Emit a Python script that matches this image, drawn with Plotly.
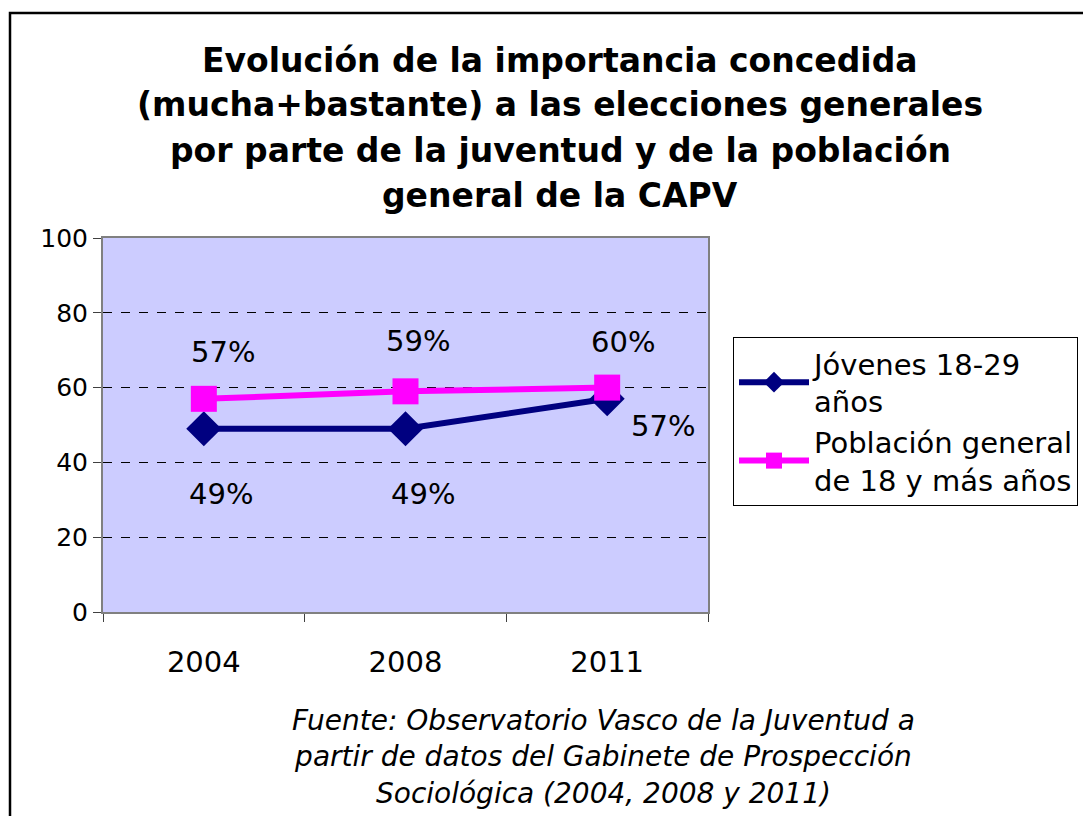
import plotly.graph_objects as go

years = ["2004", "2008", "2011"]
jovenes = [49, 49, 57]
poblacion = [57, 59, 60]
name_jov = "Jóvenes 18-29<br>años"
name_pob = "Población general<br>de 18 y más años"
title_lines = ["Evolución de la importancia concedida",
               "(mucha+bastante) a las elecciones generales",
               "por parte de la juventud y de la población",
               "general de la CAPV"]
source_text = ("<i>Fuente: Observatorio Vasco de la Juventud a<br>partir de datos del Gabinete de Prospección<br>"
               "Sociológica (2004, 2008 y 2011)</i>")

# label offsets (style): (xshift, yshift) in px
jov_label_off = [(17, -65), (17, -65), (56, -27)]
pob_label_off = [(19, 47), (12, 50), (16, 46)]

FONT = "Verdana, DejaVu Sans, sans-serif"
# page body has an 8px margin, so figure coordinates = page coordinates - 8
W, H = 1083, 808
L, T = 95, 230
PR, PB = 700, 604
R, B = W - PR, H - PB
PW, PH = PR - L, PB - T

def px(x):
    return (x - L) / PW

def py(y):
    return (PB - y) / PH

fig = go.Figure()
fig.add_trace(go.Scatter(x=years, y=jovenes, mode="lines+markers", name=name_jov,
                         line=dict(color="#000080", width=6),
                         marker=dict(symbol="diamond", size=27, color="#000080")))
fig.add_trace(go.Scatter(x=years, y=poblacion, mode="lines+markers", name=name_pob,
                         line=dict(color="#FF00FF", width=6),
                         marker=dict(symbol="square", size=26, color="#FF00FF")))

anns = []
for i, y in enumerate(years):
    anns.append(dict(x=i, y=jovenes[i], xref="x", yref="y", text=f"{jovenes[i]}%", showarrow=False,
                     xshift=jov_label_off[i][0], yshift=jov_label_off[i][1],
                     font=dict(family=FONT, size=29, color="black")))
    anns.append(dict(x=i, y=poblacion[i], xref="x", yref="y", text=f"{poblacion[i]}%", showarrow=False,
                     xshift=pob_label_off[i][0], yshift=pob_label_off[i][1],
                     font=dict(family=FONT, size=29, color="black")))
for k, line in enumerate(title_lines):
    anns.append(dict(x=px(552), y=py(52 + 45 * k), xref="paper", yref="paper",
                     xanchor="center", yanchor="middle",
                     text=f"<b>{line}</b>", showarrow=False,
                     font=dict(family=FONT, size=33, color="black")))
anns.append(dict(x=px(595), y=py(694), xref="paper", yref="paper", xanchor="center", yanchor="top",
                 text=source_text, showarrow=False, font=dict(family=FONT, size=28, color="black")))

fig.update_layout(
    width=W, height=H,
    margin=dict(l=L, r=R, t=T, b=B),
    paper_bgcolor="white",
    plot_bgcolor="#CCCCFF",
    showlegend=True,
    legend=dict(x=px(725), y=py(329), xanchor="left", yanchor="top",
                bgcolor="white", bordercolor="black", borderwidth=1,
                font=dict(family=FONT, size=29, color="black"),
                tracegroupgap=4, itemwidth=70),
    annotations=anns,
    shapes=[dict(type="rect", xref="paper", yref="paper",
                 x0=px(2), y0=py(830), x1=px(1100), y1=py(5),
                 line=dict(color="black", width=2.5))],
    xaxis=dict(type="category", range=[-0.5, 2.5], tickson="boundaries", ticks="outside", ticklen=8,
               tickcolor="#404040", showgrid=False, showline=True, linecolor="#808080",
               linewidth=2, mirror=True, ticklabelstandoff=23, tickangle=0,
               tickfont=dict(family=FONT, size=29, color="black")),
    yaxis=dict(range=[0, 100], tickvals=[0, 20, 40, 60, 80, 100], ticks="outside", ticklen=8,
               tickcolor="#404040", showgrid=True, gridcolor="black", griddash="dash", gridwidth=1,
               showline=True, linecolor="#808080", linewidth=2, mirror=True, zeroline=False,
               tickfont=dict(family=FONT, size=25, color="black")),
)

fig.write_html("out.html")
